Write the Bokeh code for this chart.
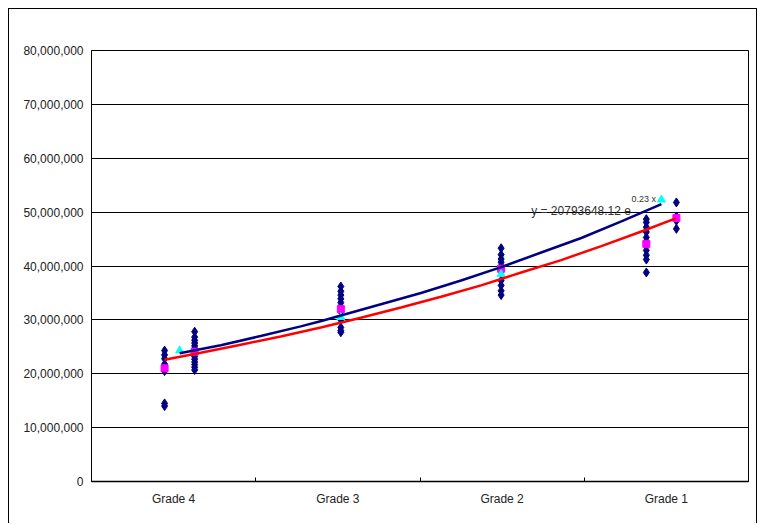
from bokeh.plotting import figure
from bokeh.models import FixedTicker, NumeralTickFormatter, Label, Range1d
from bokeh.embed import file_html
from bokeh.resources import INLINE

# ---- data ----
grades = ["Grade 4", "Grade 3", "Grade 2", "Grade 1"]
grade_pos = [1, 2, 3, 4]
grade_bounds = [0.5, 1.5, 2.5, 3.5, 4.5]
y_ticks = [0, 10_000_000, 20_000_000, 30_000_000, 40_000_000,
           50_000_000, 60_000_000, 70_000_000, 80_000_000]

# individual observations (navy diamonds)
obs_x = ([0.945] * 8 + [1.128] * 14 + [2.018] * 11 + [2.994] * 10 +
         [3.878] * 10 + [4.061] * 4)
obs_y = [
    # Grade 4, left column
    24.3e6, 23.5e6, 22.8e6, 21.8e6, 21.0e6, 20.5e6, 14.5e6, 14.0e6,
    # Grade 4, right column
    27.8e6, 26.8e6, 26.2e6, 25.7e6, 25.2e6, 24.7e6, 24.2e6, 23.7e6,
    23.2e6, 22.7e6, 22.2e6, 21.7e6, 21.2e6, 20.7e6,
    # Grade 3
    36.2e6, 35.3e6, 34.6e6, 33.9e6, 33.2e6, 32.5e6, 31.5e6, 30.0e6,
    28.6e6, 28.0e6, 27.7e6,
    # Grade 2
    43.3e6, 42.1e6, 41.3e6, 40.7e6, 40.0e6, 39.0e6, 37.3e6, 36.4e6,
    35.4e6, 34.6e6,
    # Grade 1, left column
    48.7e6, 48.1e6, 47.2e6, 46.3e6, 45.3e6, 44.5e6, 42.9e6, 42.0e6,
    41.2e6, 38.8e6,
    # Grade 1, right column
    51.8e6, 49.2e6, 48.4e6, 46.9e6,
]

# averages (magenta squares)
avg_x = [0.945, 1.128, 2.018, 2.994, 3.878, 4.061]
avg_y = [21.0e6, 24.1e6, 32.0e6, 39.5e6, 44.1e6, 48.9e6]

# fitted points (cyan triangles)
fit_x = [1.037, 2.018, 2.994, 3.970]
fit_y = [24.3e6, 30.5e6, 38.5e6, 52.3e6]

# navy curve
navy_x = [1.037, 1.287, 1.530, 1.774, 1.900, 2.018, 2.262, 2.506, 2.750,
          2.994, 3.238, 3.482, 3.726, 3.970]
navy_y = [23.8e6, 25.3e6, 27.0e6, 28.8e6, 29.8e6, 30.8e6, 32.9e6, 35.0e6,
          37.3e6, 39.8e6, 42.5e6, 45.2e6, 48.3e6, 51.5e6]

# red curve
red_x = [0.945, 1.165, 1.409, 1.652, 1.896, 2.140, 2.384, 2.628, 2.872,
         3.116, 3.360, 3.604, 3.848, 4.061]
red_y = [22.6e6, 23.9e6, 25.4e6, 26.9e6, 28.6e6, 30.4e6, 32.3e6, 34.3e6,
         36.4e6, 38.8e6, 41.1e6, 43.7e6, 46.4e6, 48.9e6]

equation_main = "y = 20793648.12 e"
equation_exp = "0.23 x"

FONT = "Liberation Sans"
TXT = "#222222"

p = figure(width=749, height=515,
           x_range=Range1d(0.5, 4.5), y_range=Range1d(0, 80_000_000),
           output_backend="svg", toolbar_location=None,
           min_border_left=82, min_border_right=10,
           min_border_top=41, min_border_bottom=43,
           background_fill_color="white", border_fill_color="white",
           styles={"margin-left": "8px", "margin-top": "8px",
                   "border-left": "1px solid #000000",
                   "border-top": "1px solid #000000",
                   "border-right": "1px solid #000000"})

p.outline_line_color = "black"
p.outline_line_width = 1

# axes
p.xgrid.visible = False
p.ygrid.grid_line_color = "black"
p.ygrid.grid_line_width = 1

p.yaxis.ticker = FixedTicker(ticks=y_ticks)
p.yaxis.formatter = NumeralTickFormatter(format="0,0")
p.yaxis.major_tick_out = 0
p.yaxis.major_tick_in = 0
p.yaxis.minor_tick_line_color = None
p.yaxis.axis_line_color = "black"
p.yaxis.major_label_standoff = 8
p.yaxis.major_label_text_font = FONT
p.yaxis.major_label_text_font_size = "12px"
p.yaxis.major_label_text_color = TXT

p.xaxis.ticker = FixedTicker(ticks=grade_pos, minor_ticks=grade_bounds)
p.xaxis.major_label_overrides = {pos: g for pos, g in zip(grade_pos, grades)}
p.xaxis.major_tick_line_color = None
p.xaxis.major_tick_in = 0
p.xaxis.major_tick_out = 0
p.xaxis.minor_tick_in = 4
p.xaxis.minor_tick_out = 0
p.xaxis.minor_tick_line_color = "black"
p.xaxis.axis_line_color = "black"
p.xaxis.axis_line_width = 1.5
p.xaxis.major_label_standoff = 10
p.xaxis.major_label_text_font = FONT
p.xaxis.major_label_text_font_size = "12px"
p.xaxis.major_label_text_color = TXT

# glyphs
p.scatter(obs_x, obs_y, marker="diamond", size=9, fill_color="#000080",
          line_color="#000080")
p.scatter(avg_x, avg_y, marker="square", size=7, fill_color="#FF00FF",
          line_color="#FF00FF")
p.scatter(fit_x, fit_y, marker="triangle", size=8, fill_color="#00FFFF",
          line_color="#00FFFF")
p.line(navy_x, navy_y, line_color="#000080", line_width=2.5)
p.line(red_x, red_y, line_color="#FF0000", line_width=2.5)

p.add_layout(Label(x=3.177, y=50.17e6, text=equation_main,
                   text_font=FONT, text_font_size="12px",
                   text_color="#333333", text_baseline="alphabetic"))
p.add_layout(Label(x=3.787, y=52.4e6, text=equation_exp,
                   text_font=FONT, text_font_size="9px",
                   text_color="#333333", text_baseline="alphabetic"))

open("out.html", "w").write(file_html(p, INLINE))
